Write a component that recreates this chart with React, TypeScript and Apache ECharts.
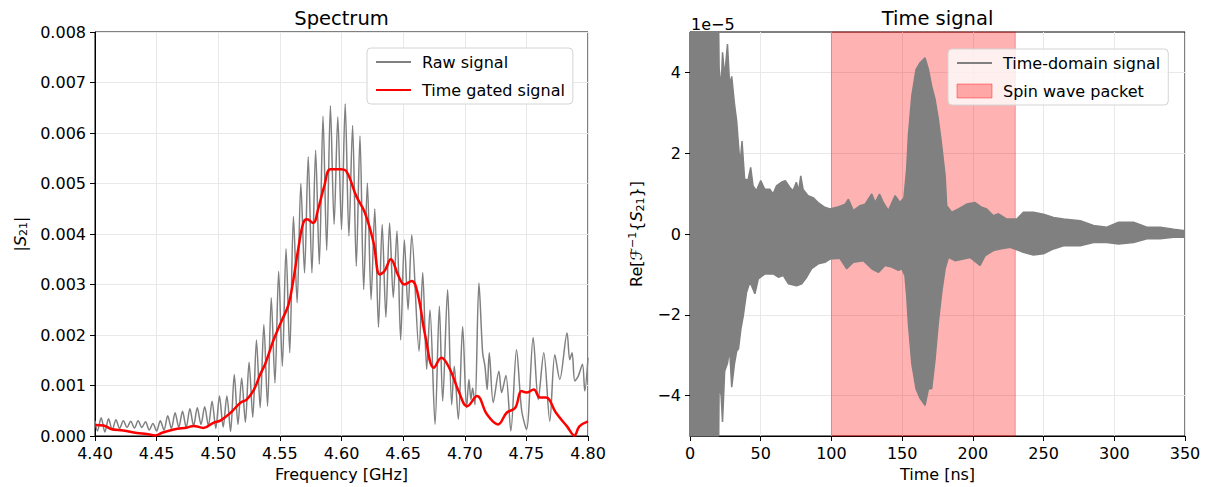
import React, { useEffect, useRef } from 'react';
import * as echarts from 'echarts';

// ---------- Spectrum (left) ----------
// raw signal: alternating troughs/peaks read on a 0.003 GHz sampling grid starting at 4.402 GHz
const rawGridStart = 4.402;
const rawGridStep = 0.003;
const rawGridVal = [
  0.00010, 0.00036, 0.00008, 0.00034, 0.00012, 0.00032, 0.00015, 0.00030, 0.00017, 0.00029,
  0.00016, 0.00030, 0.00017, 0.00028, 0.00012, 0.00025, 0.00010, 0.00030, 0.00012, 0.00040,
  0.00015, 0.00046, 0.00017, 0.00049, 0.00017, 0.00054, 0.00020, 0.00056, 0.00023, 0.00058,
  0.00020, 0.00069, 0.00015, 0.00079, 0.00018, 0.00079, 0.00009, 0.00122, 0.00023, 0.00115,
  0.00027, 0.00146, 0.00037, 0.00190, 0.00056, 0.00221, 0.00059, 0.00274, 0.00105, 0.00326,
  0.00138, 0.00371, 0.00165, 0.00435, 0.00264, 0.00500, 0.00323, 0.00553, 0.00323, 0.00566,
  0.00340, 0.00633, 0.00368, 0.00654, 0.00419, 0.00632, 0.00409, 0.00658, 0.00396, 0.00615,
  0.00336, 0.00594, 0.00290, 0.00501, 0.00270, 0.00450, 0.00215, 0.00419, 0.00235, 0.00422,
  0.00274, 0.00406, 0.00190, 0.00388, 0.00250, 0.00398,
];
// irregular tail of the raw signal
const rawTailFreq = [
  4.6629, 4.6659, 4.6691, 4.6718, 4.6759, 4.6794, 4.6821, 4.6861, 4.6894, 4.6915,
  4.6948, 4.6983, 4.7015, 4.7034, 4.7050, 4.7064, 4.7083, 4.7115, 4.7145, 4.7164,
  4.7182, 4.7199, 4.7231, 4.7277, 4.7299, 4.7334, 4.7374, 4.7420, 4.7461, 4.7501,
  4.7555, 4.7596, 4.7641, 4.7690, 4.7731, 4.7771, 4.7830, 4.7852, 4.7871, 4.7893,
  4.7920, 4.7955, 4.7974, 4.8000,
];
const rawTailVal = [
  0.00168, 0.00324, 0.00132, 0.00250, 0.00023, 0.00257, 0.00069, 0.00290, 0.00062, 0.00138,
  0.00033, 0.00217, 0.00056, 0.00112, 0.00072, 0.00095, 0.00062, 0.00303, 0.00165, 0.00138,
  0.00092, 0.00165, 0.00066, 0.00128, 0.00086, 0.00120, 0.00010, 0.00171, 0.00052, 0.00013,
  0.00195, 0.00072, 0.00165, 0.00029, 0.00161, 0.00112, 0.00204, 0.00151, 0.00165, 0.00109,
  0.00118, 0.00142, 0.00089, 0.00155,
];
const rawStart = [4.400, 0.00030];

const gatedFreq = [
  4.400, 4.407, 4.413, 4.423, 4.434, 4.442, 4.449, 4.454, 4.464, 4.475,
  4.480, 4.488, 4.496, 4.502, 4.510, 4.518, 4.523, 4.529, 4.534, 4.538,
  4.545, 4.552, 4.557, 4.561, 4.565, 4.569, 4.572, 4.577, 4.581, 4.586,
  4.591, 4.599, 4.604, 4.612, 4.619, 4.626, 4.631, 4.635, 4.640, 4.646,
  4.651, 4.657, 4.662, 4.668, 4.675, 4.681, 4.688, 4.695, 4.702, 4.710,
  4.718, 4.727, 4.734, 4.741, 4.746, 4.750, 4.756, 4.761, 4.766, 4.774,
  4.783, 4.789, 4.793, 4.800,
];
const gatedVal = [
  0.00022, 0.00021, 0.00014, 0.00011, 0.00006, 0.00004, 0.00001, 0.00006, 0.00013, 0.00017,
  0.00020, 0.00016, 0.00026, 0.00031, 0.00046, 0.00066, 0.00072, 0.00092, 0.00122, 0.00142,
  0.00191, 0.00231, 0.00260, 0.00310, 0.00372, 0.00422, 0.00429, 0.00422, 0.00449, 0.00495,
  0.00528, 0.00528, 0.00524, 0.00475, 0.00442, 0.00383, 0.00320, 0.00327, 0.00350, 0.00318,
  0.00300, 0.00307, 0.00280, 0.00198, 0.00135, 0.00155, 0.00132, 0.00089, 0.00059, 0.00079,
  0.00043, 0.00023, 0.00046, 0.00056, 0.00089, 0.00086, 0.00092, 0.00076, 0.00076, 0.00046,
  0.00019, 0.00001, 0.00019, 0.00029,
];

// ---------- Time signal (right): envelope of the oscillation, values in units of 1e-5 ----------
const upT = [
  0, 20.3, 20.6, 22, 23, 24.5, 26.5, 28, 29.5, 31.5,
  33, 34.3, 35.4, 36.8, 38.6, 41, 42.9, 44.6, 46.9, 50,
  52.8, 56.4, 58.7, 61.1, 64.6, 67.4, 70.5, 72.8, 75.2, 76.8,
  78.3, 80, 83.5, 87, 90.6, 95.3, 99, 103.7, 107, 109.7,
  112, 115.5, 120.2, 123.8, 128.5, 130.9, 134, 136.7, 140.3, 145,
  148.5, 151.3, 153.2, 154.4, 156.8, 159.8, 162.7, 166.2, 168.6, 170.9,
  173.3, 175.6, 178, 180.4, 181.5, 185.1, 189.8, 195.7, 201.6, 206.3,
  209.8, 214.5, 218.1, 224, 231.1, 235.7, 242.8, 249.9, 257, 264.1,
  275.9, 285.3, 294.7, 303, 313.6, 323.1, 332.5, 341.9, 350,
];
const upV = [
  5, 5, 4.1, 3.6, 4.5, 3.9, 4.7, 3.7, 3.9, 3.2,
  2.8, 2.2, 1.73, 2.3, 1.36, 1.33, 1.65, 1.19, 1.07, 1.32,
  1.11, 1.11, 0.99, 1.19, 1.28, 1.32, 1.16, 1.07, 1.28, 1.07,
  1.44, 1.1, 0.95, 0.9, 0.78, 0.66, 0.62, 0.66, 0.7, 0.74,
  0.86, 0.58, 0.7, 0.74, 0.99, 0.78, 0.99, 0.78, 0.58, 0.95,
  0.78, 0.9, 1.6, 2.43, 3.41, 4.07, 4.24, 4.36, 4.07, 3.66,
  3.33, 2.84, 2.18, 1.44, 0.7, 0.54, 0.62, 0.74, 0.78, 0.66,
  0.62, 0.45, 0.5, 0.37, 0.37, 0.54, 0.54, 0.49, 0.41, 0.37,
  0.33, 0.21, 0.17, 0.29, 0.29, 0.17, 0.17, 0.12, 0.08,
];
const loT = [
  0, 20.3, 20.6, 22, 23, 24.5, 26.5, 28, 29.5, 31.5,
  33, 34.3, 36, 37.7, 40, 42.4, 45.9, 48.3, 53, 58.9,
  62.4, 66, 69.5, 75.4, 79, 82.5, 86, 90.7, 95.4, 99,
  106, 110.8, 115.5, 122.6, 128.5, 133.2, 137.9, 142.6, 147.3, 149.7,
  152, 153.2, 154.4, 156.8, 159.8, 162.7, 166.2, 168.6, 170.9, 173.3,
  175.6, 178, 180.4, 182.7, 187.4, 193.3, 198, 205.1, 208.6, 214.5,
  219.3, 226.3, 235.7, 242.8, 249.9, 257, 264.1, 275.9, 285.3, 294.7,
  303, 313.6, 323.1, 332.5, 341.9, 350,
];
const loV = [
  -5, -5, -3.7, -4.0, -4.65, -3.4, -3.2, -2.84, -3.79, -3.2,
  -2.9, -2.84, -2.35, -2.02, -1.44, -1.19, -1.48, -1.11, -0.99, -0.99,
  -1.07, -1.03, -1.23, -1.28, -1.23, -1.07, -0.86, -0.74, -0.7, -0.62,
  -0.6, -0.86, -0.7, -0.66, -0.86, -0.95, -0.78, -0.82, -0.9, -0.86,
  -1.03, -1.52, -2.2, -3.2, -3.83, -4.07, -4.24, -3.83, -3.83, -3.09,
  -2.18, -1.44, -0.86, -0.58, -0.66, -0.62, -0.58, -0.78, -0.54, -0.41,
  -0.37, -0.33, -0.45, -0.52, -0.49, -0.37, -0.29, -0.29, -0.21, -0.21,
  -0.25, -0.21, -0.12, -0.12, -0.08, -0.08,
];
const packetStart = 100;
const packetEnd = 230;

const FONT = 'DejaVu Sans';

export default function App() {
  const ref = useRef<HTMLDivElement>(null);
  useEffect(() => {
    if (!ref.current) return;
    const chart = echarts.init(ref.current, null, { renderer: 'svg' });

    const rawData: number[][] = [rawStart];
    rawGridVal.forEach((v, i) => rawData.push([rawGridStart + rawGridStep * i, v]));
    rawTailFreq.forEach((f, i) => rawData.push([f, rawTailVal[i]]));
    const gatedData = gatedFreq.map((f, i) => [f, gatedVal[i]]);
    const upData = upT.map((t, i) => [t, upV[i]]);
    const loData = loT.map((t, i) => [t, loV[i]]);

    const axisCommon = {
      axisLine: { show: true, onZero: false, lineStyle: { color: '#000', width: 1 } },
      axisTick: { show: true, inside: false, length: 5, lineStyle: { color: '#000', width: 1 } },
      splitLine: { show: true, lineStyle: { color: '#e8e8e8', width: 1 } },
      nameTextStyle: { fontSize: 16, color: '#000', fontFamily: FONT },
    };
    const richStyles = {
      i: { fontStyle: 'italic', fontSize: 16, fontFamily: FONT, color: '#000' },
      f: { fontSize: 16, fontFamily: FONT, color: '#000' },
      b: { fontSize: 16, fontFamily: FONT, color: '#000' },
      sub: { fontSize: 11, fontFamily: FONT, color: '#000', padding: [7, 0, 0, 0] },
      sup: { fontSize: 11, fontFamily: FONT, color: '#000', padding: [0, 0, 8, 0] },
    };
    const hideSym = { opacity: 0 };

    chart.setOption({
      animation: false,
      textStyle: { fontFamily: FONT },
      graphic: [
        { type: 'text', x: 341.5, y: 8, style: { text: 'Spectrum', fontSize: 19.5, fontFamily: FONT, fill: '#000', textAlign: 'center', textVerticalAlign: 'top' } },
        { type: 'text', x: 937.5, y: 8, style: { text: 'Time signal', fontSize: 19.5, fontFamily: FONT, fill: '#000', textAlign: 'center', textVerticalAlign: 'top' } },
        { type: 'text', x: 691, y: 16, style: { text: '1e\u22125', fontSize: 16, fontFamily: FONT, fill: '#000', textAlign: 'left', textVerticalAlign: 'top' } },
      ],
      grid: [
        { left: 95, top: 32, width: 493, height: 405, show: true, borderColor: '#000', borderWidth: 1, backgroundColor: 'transparent' },
        { left: 690, top: 32, width: 495, height: 405, show: true, borderColor: '#000', borderWidth: 1, backgroundColor: 'transparent' },
      ],
      xAxis: [
        {
          ...axisCommon, type: 'value', gridIndex: 0, min: 4.4, max: 4.8, interval: 0.05,
          name: 'Frequency [GHz]', nameLocation: 'middle', nameGap: 30,
          axisLabel: { fontSize: 16, color: '#000', fontFamily: FONT, margin: 9, formatter: (v: number) => v.toFixed(2) },
        },
        {
          ...axisCommon, type: 'value', gridIndex: 1, min: 0, max: 350, interval: 50,
          name: 'Time [ns]', nameLocation: 'middle', nameGap: 30,
          axisLabel: { fontSize: 16, color: '#000', fontFamily: FONT, margin: 9 },
        },
      ],
      yAxis: [
        {
          ...axisCommon, type: 'value', gridIndex: 0, min: 0, max: 0.008, interval: 0.001,
          name: '|{i|S}{sub|21}|', nameLocation: 'middle', nameGap: 66,
          nameTextStyle: { ...axisCommon.nameTextStyle, rich: richStyles },
          axisLabel: { fontSize: 16, color: '#000', fontFamily: FONT, margin: 9, formatter: (v: number) => v.toFixed(3) },
        },
        {
          ...axisCommon, type: 'value', gridIndex: 1, min: -5, max: 5, splitNumber: 5,
          name: 'Re[{f|\u2131}{sup|\u22121}{b|{}{i|S}{sub|21}}]', nameLocation: 'middle', nameGap: 44,
          nameTextStyle: { ...axisCommon.nameTextStyle, rich: richStyles },
          axisTick: { ...axisCommon.axisTick, customValues: [-4, -2, 0, 2, 4] },
          axisLabel: {
            fontSize: 16, color: '#000', fontFamily: FONT, margin: 9,
            customValues: [-4, -2, 0, 2, 4],
            formatter: (v: number) => (Math.abs(v) % 2 === 0 ? (v < 0 ? '\u2212' + Math.abs(v) : String(v)) : ''),
          },
        },
      ],
      legend: [
        {
          orient: 'vertical', left: 367, top: 48, padding: [6, 8, 6, 8],
          backgroundColor: '#fff', borderColor: '#d4d4d4', borderWidth: 1, borderRadius: 4,
          itemWidth: 35, itemHeight: 14, itemGap: 12,
          textStyle: { fontSize: 16, color: '#000', fontFamily: FONT, padding: [0, 0, 0, 6] },
          data: [
            { name: 'Raw signal', itemStyle: hideSym },
            { name: 'Time gated signal', itemStyle: hideSym },
          ],
        },
        {
          orient: 'vertical', left: 948, top: 49, padding: [6, 8, 6, 8],
          backgroundColor: 'rgba(255,255,255,0.8)', borderColor: '#d4d4d4', borderWidth: 1, borderRadius: 4,
          itemWidth: 35, itemHeight: 14, itemGap: 12,
          textStyle: { fontSize: 16, color: '#000', fontFamily: FONT, padding: [0, 0, 0, 6] },
          data: [
            { name: 'Time-domain signal', itemStyle: hideSym },
            { name: 'Spin wave packet', icon: 'rect', itemStyle: { color: 'rgba(255,0,0,0.3)', borderColor: 'rgba(255,0,0,0.4)', borderWidth: 1 } },
          ],
        },
      ],
      series: [
        {
          name: 'Raw signal', type: 'line', xAxisIndex: 0, yAxisIndex: 0, data: rawData,
          symbol: 'none', showSymbol: false, smooth: 0.3, color: '#808080',
          lineStyle: { color: '#808080', width: 1.5 }, z: 2,
        },
        {
          name: 'Time gated signal', type: 'line', xAxisIndex: 0, yAxisIndex: 0, data: gatedData,
          symbol: 'none', showSymbol: false, smooth: 0.4, color: '#ff0000',
          lineStyle: { color: '#ff0000', width: 2.5 }, z: 3,
        },
        {
          name: 'Spin wave packet', type: 'line', xAxisIndex: 1, yAxisIndex: 1, data: [],
          color: 'rgba(255,0,0,0.3)', symbol: 'none', z: 1,
          markArea: {
            silent: true,
            itemStyle: { color: 'rgba(255,0,0,0.3)', borderColor: 'rgba(255,0,0,0.35)', borderWidth: 1 },
            data: [[{ xAxis: packetStart }, { xAxis: packetEnd }]],
          },
        },
        {
          name: 'Time-domain signal', type: 'line', xAxisIndex: 1, yAxisIndex: 1, data: upData,
          symbol: 'none', showSymbol: false, color: '#808080',
          lineStyle: { color: '#808080', width: 1.5 },
          areaStyle: { color: '#808080', opacity: 1, origin: 0 }, z: 3,
        },
        {
          name: 'Time-domain signal', type: 'line', xAxisIndex: 1, yAxisIndex: 1, data: loData,
          symbol: 'none', showSymbol: false, color: '#808080',
          lineStyle: { color: '#808080', width: 1.5 },
          areaStyle: { color: '#808080', opacity: 1, origin: 0 }, z: 3,
        },
      ],
    });
    return () => chart.dispose();
  }, []);
  return (
    <div
      ref={ref}
      style={{ position: 'absolute', left: 0, top: 0, width: 1210, height: 487, background: '#fff' }}
    />
  );
}
